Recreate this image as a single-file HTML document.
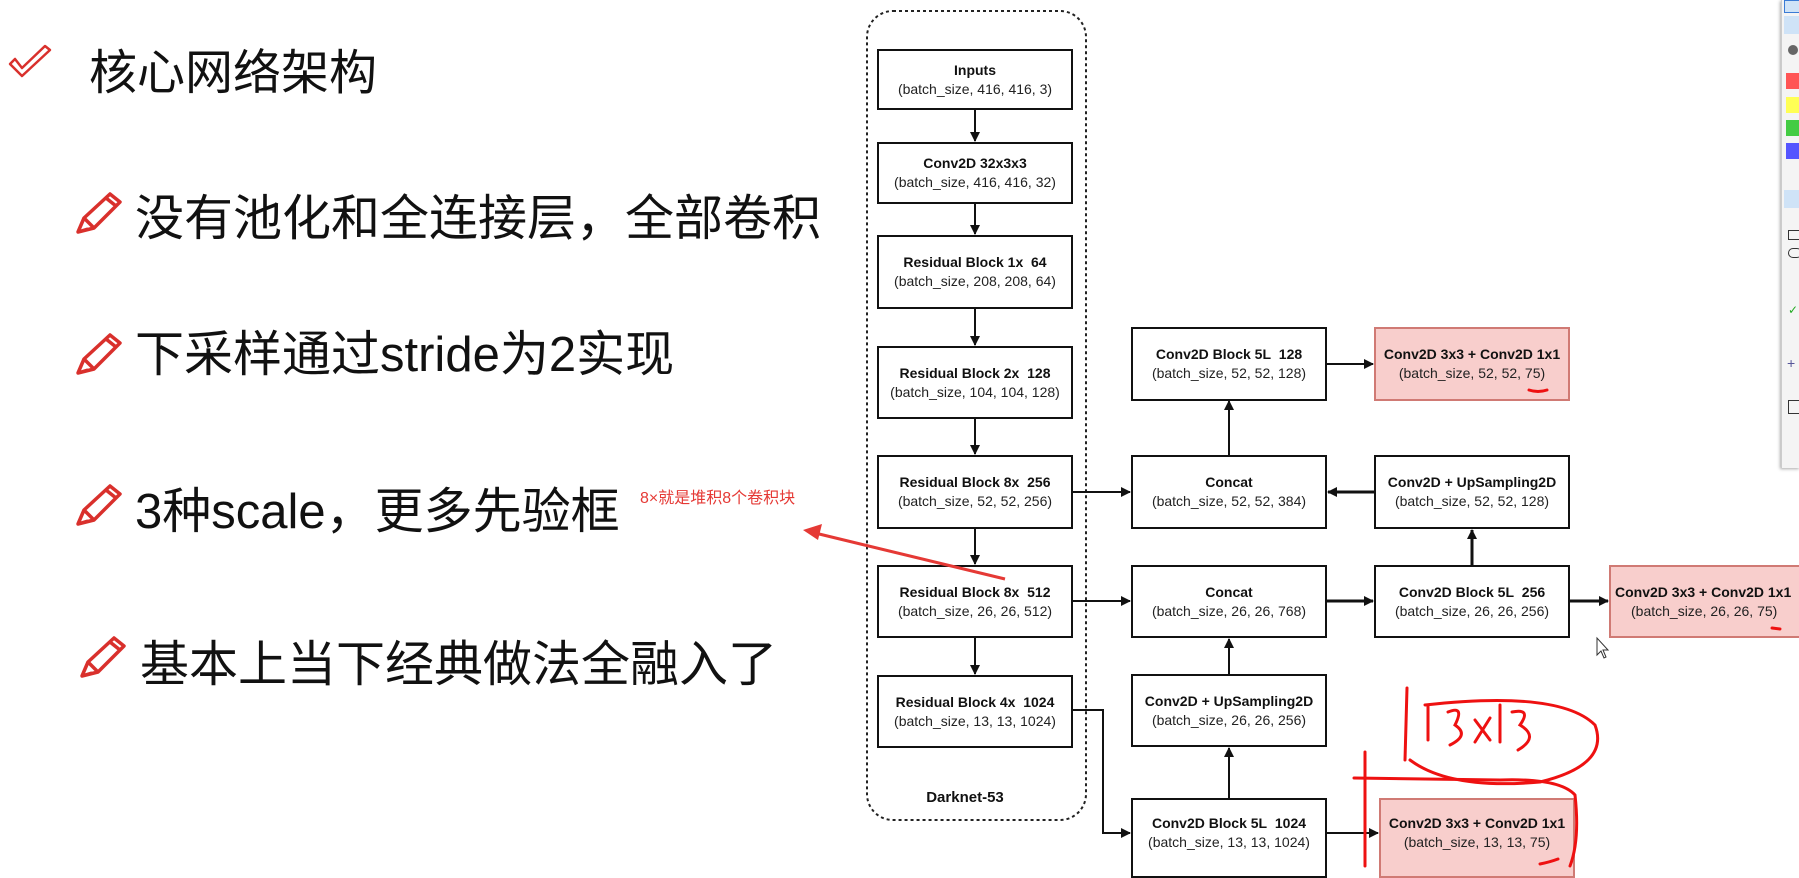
<!DOCTYPE html>
<html><head><meta charset="utf-8">
<style>
html,body{margin:0;padding:0;background:#fff;}
body{width:1799px;height:868px;position:relative;overflow:hidden;font-family:"Liberation Sans",Arial,sans-serif;}
.cn{position:absolute;font-family:"Liberation Sans","Noto Sans CJK SC",sans-serif;color:#111;font-size:49px;line-height:1;white-space:nowrap;}
.b{position:absolute;box-sizing:border-box;border:2.5px solid #111;background:#fff;text-align:center;display:flex;flex-direction:column;justify-content:center;font-size:14px;line-height:19px;color:#222;}
.b b{font-weight:bold;color:#111;}
.r{background:#f8cecc;border:2px solid #d07a74;}
</style></head><body>

<div class="cn" style="left:89px;top:50px;font-size:48px;">核心网络架构</div>
<div class="cn" style="left:135px;top:195px;">没有池化和全连接层，全部卷积</div>
<div class="cn" style="left:135px;top:331px;">下采样通过stride为2实现</div>
<div class="cn" style="left:135px;top:488px;">3种scale，更多先验框</div>
<div class="cn" style="left:140px;top:641px;">基本上当下经典做法全融入了</div>
<div class="cn" style="left:640px;top:491px;font-size:16px;color:#e53935;">8×就是堆积8个卷积块</div>

<svg width="1799" height="868" style="position:absolute;left:0;top:0" xmlns="http://www.w3.org/2000/svg">
<defs><marker id="a" markerWidth="10" markerHeight="10" refX="9" refY="5" orient="auto" markerUnits="userSpaceOnUse"><path d="M0,0 L10,5 L0,10 z" fill="#111"/></marker></defs>
<path d="M10,64 L22,76 L50,50 L45,46 L22,68 L15,59 z" fill="none" stroke="#d9302c" stroke-width="2.5" stroke-linejoin="round"/>
<g fill="none" stroke="#d9302c" stroke-width="3.5" stroke-linejoin="round">
<g transform="translate(76,192)"><path d="M2,40 L8,26 L34,2 L44,10 L18,36 z M8,26 L18,36 M30,6 L40,14 M2,40 L12,37"/></g>
<g transform="translate(76,333)"><path d="M2,40 L8,26 L34,2 L44,10 L18,36 z M8,26 L18,36 M30,6 L40,14 M2,40 L12,37"/></g>
<g transform="translate(76,484)"><path d="M2,40 L8,26 L34,2 L44,10 L18,36 z M8,26 L18,36 M30,6 L40,14 M2,40 L12,37"/></g>
<g transform="translate(80,636)"><path d="M2,40 L8,26 L34,2 L44,10 L18,36 z M8,26 L18,36 M30,6 L40,14 M2,40 L12,37"/></g>
</g>
<rect x="867" y="11" width="219" height="809" rx="26" fill="none" stroke="#222" stroke-width="2" stroke-dasharray="3,3"/>
<g stroke="#111" stroke-width="2" fill="none" marker-end="url(#a)">
<line x1="975" y1="110" x2="975" y2="141"/>
<line x1="975" y1="204" x2="975" y2="234"/>
<line x1="975" y1="309" x2="975" y2="345"/>
<line x1="975" y1="419" x2="975" y2="454"/>
<line x1="975" y1="529" x2="975" y2="564"/>
<line x1="975" y1="638" x2="975" y2="674"/>
<line x1="1073" y1="492" x2="1130" y2="492"/>
<line x1="1073" y1="601" x2="1130" y2="601"/>
<polyline points="1073,710 1103,710 1103,833 1130,833"/>
<line x1="1229" y1="455" x2="1229" y2="401"/>
<line x1="1327" y1="364" x2="1373" y2="364"/>
<line x1="1374" y1="492" x2="1328" y2="492" stroke-width="3"/>
<line x1="1472" y1="565" x2="1472" y2="530" stroke-width="3"/>
<line x1="1327" y1="601" x2="1373" y2="601" stroke-width="3"/>
<line x1="1570" y1="601" x2="1608" y2="601" stroke-width="3"/>
<line x1="1229" y1="674" x2="1229" y2="639"/>
<line x1="1229" y1="798" x2="1229" y2="748"/>
<line x1="1327" y1="833" x2="1378" y2="833"/>
</g>
</svg>

<div class="b" style="left:877px;top:49px;width:196px;height:61px;"><b>Inputs</b>(batch_size, 416, 416, 3)</div>
<div class="b" style="left:877px;top:142px;width:196px;height:62px;"><b>Conv2D 32x3x3</b>(batch_size, 416, 416, 32)</div>
<div class="b" style="left:877px;top:235px;width:196px;height:74px;"><b>Residual Block 1x&nbsp; 64</b>(batch_size, 208, 208, 64)</div>
<div class="b" style="left:877px;top:346px;width:196px;height:73px;"><b>Residual Block 2x&nbsp; 128</b>(batch_size, 104, 104, 128)</div>
<div class="b" style="left:877px;top:455px;width:196px;height:74px;"><b>Residual Block 8x&nbsp; 256</b>(batch_size, 52, 52, 256)</div>
<div class="b" style="left:877px;top:565px;width:196px;height:73px;"><b>Residual Block 8x&nbsp; 512</b>(batch_size, 26, 26, 512)</div>
<div class="b" style="left:877px;top:675px;width:196px;height:73px;"><b>Residual Block 4x&nbsp; 1024</b>(batch_size, 13, 13, 1024)</div>
<div style="position:absolute;left:915px;top:789px;width:100px;text-align:center;font-weight:bold;font-size:15px;color:#111;">Darknet-53</div>

<div class="b" style="left:1131px;top:327px;width:196px;height:74px;"><b>Conv2D Block 5L&nbsp; 128</b>(batch_size, 52, 52, 128)</div>
<div class="b" style="left:1131px;top:455px;width:196px;height:74px;"><b>Concat</b>(batch_size, 52, 52, 384)</div>
<div class="b" style="left:1131px;top:565px;width:196px;height:73px;"><b>Concat</b>(batch_size, 26, 26, 768)</div>
<div class="b" style="left:1131px;top:674px;width:196px;height:73px;"><b>Conv2D + UpSampling2D</b>(batch_size, 26, 26, 256)</div>
<div class="b" style="left:1131px;top:798px;width:196px;height:80px;justify-content:flex-start;padding-top:14px;"><b>Conv2D Block 5L&nbsp; 1024</b>(batch_size, 13, 13, 1024)</div>

<div class="b r" style="left:1374px;top:327px;width:196px;height:74px;"><b>Conv2D 3x3 + Conv2D 1x1</b>(batch_size, 52, 52, 75)</div>
<div class="b" style="left:1374px;top:455px;width:196px;height:74px;"><b>Conv2D + UpSampling2D</b>(batch_size, 52, 52, 128)</div>
<div class="b" style="left:1374px;top:565px;width:196px;height:73px;"><b>Conv2D Block 5L&nbsp; 256</b>(batch_size, 26, 26, 256)</div>
<div class="b r" style="left:1379px;top:798px;width:196px;height:80px;justify-content:flex-start;padding-top:14px;"><b>Conv2D 3x3 + Conv2D 1x1</b>(batch_size, 13, 13, 75)</div>
<div class="b r" style="left:1609px;top:565px;width:200px;height:73px;align-items:flex-start;padding-left:4px;"><b>Conv2D 3x3 + Conv2D 1x1</b><span style="padding-left:16px">(batch_size, 26, 26, 75)</span></div>

<svg width="1799" height="868" style="position:absolute;left:0;top:0" xmlns="http://www.w3.org/2000/svg">
<line x1="1005" y1="579" x2="815" y2="533" stroke="#e53935" stroke-width="3"/>
<path d="M803,530 L822,524 L818,540 z" fill="#e53935"/>
<g fill="none" stroke="#ee1111" stroke-width="3" stroke-linecap="round">
<path d="M1529,390 Q1538,393 1547,390"/>
<path d="M1772,628 L1780,629"/>
<path d="M1540,864 Q1550,862 1558,859"/>
<path d="M1407,688 L1405,760"/>
<path d="M1425,705 Q1560,690 1595,725 Q1610,765 1540,782 Q1450,790 1410,760"/>
<path d="M1428,705 L1428,740"/>
<path d="M1448,712 Q1465,705 1455,725 Q1470,735 1450,745"/>
<path d="M1475,720 L1490,740 M1490,718 L1475,742"/>
<path d="M1500,705 L1500,742"/>
<path d="M1512,712 Q1532,708 1520,725 Q1540,737 1518,750"/>
<path d="M1365,752 L1365,866"/>
<path d="M1354,778 L1500,780 Q1560,778 1575,795 Q1580,840 1570,866"/>
</g>
<path d="M1597,638 L1597,655 L1601,651 L1604,658 L1606,657 L1603,650 L1608,650 z" fill="#fff" stroke="#333" stroke-width="1"/>
</svg>

<div style="position:absolute;left:1781px;top:0;width:18px;height:468px;background:#f4f4f4;border-left:1px solid #ccc;box-shadow:-1px 1px 3px #aaa;">
<div style="position:absolute;left:2px;top:0;width:16px;height:11px;background:#cfe3f7;border:1px solid #3a7bd5;"></div>
<div style="position:absolute;left:2px;top:16px;width:16px;height:18px;background:#cfe3f7;"></div>
<div style="position:absolute;left:6px;top:45px;width:10px;height:10px;border-radius:50%;background:#666;"></div>
<div style="position:absolute;left:4px;top:73px;width:14px;height:16px;background:#f55;"></div>
<div style="position:absolute;left:4px;top:97px;width:14px;height:16px;background:#ff5;"></div>
<div style="position:absolute;left:4px;top:120px;width:14px;height:16px;background:#4c4;"></div>
<div style="position:absolute;left:4px;top:143px;width:14px;height:16px;background:#55f;"></div>
<div style="position:absolute;left:2px;top:190px;width:16px;height:18px;background:#cfe3f7;"></div>
<div style="position:absolute;left:6px;top:230px;width:12px;height:8px;border:1px solid #333;"></div>
<div style="position:absolute;left:6px;top:248px;width:12px;height:8px;border:1px solid #333;border-radius:5px;"></div>
<div style="position:absolute;left:6px;top:303px;color:#2a2;font-size:12px;">✓</div>
<div style="position:absolute;left:5px;top:355px;color:#559;font-size:14px;">+</div>
<div style="position:absolute;left:6px;top:400px;width:12px;height:12px;border:1px solid #333;"></div>
</div>
</body></html>
